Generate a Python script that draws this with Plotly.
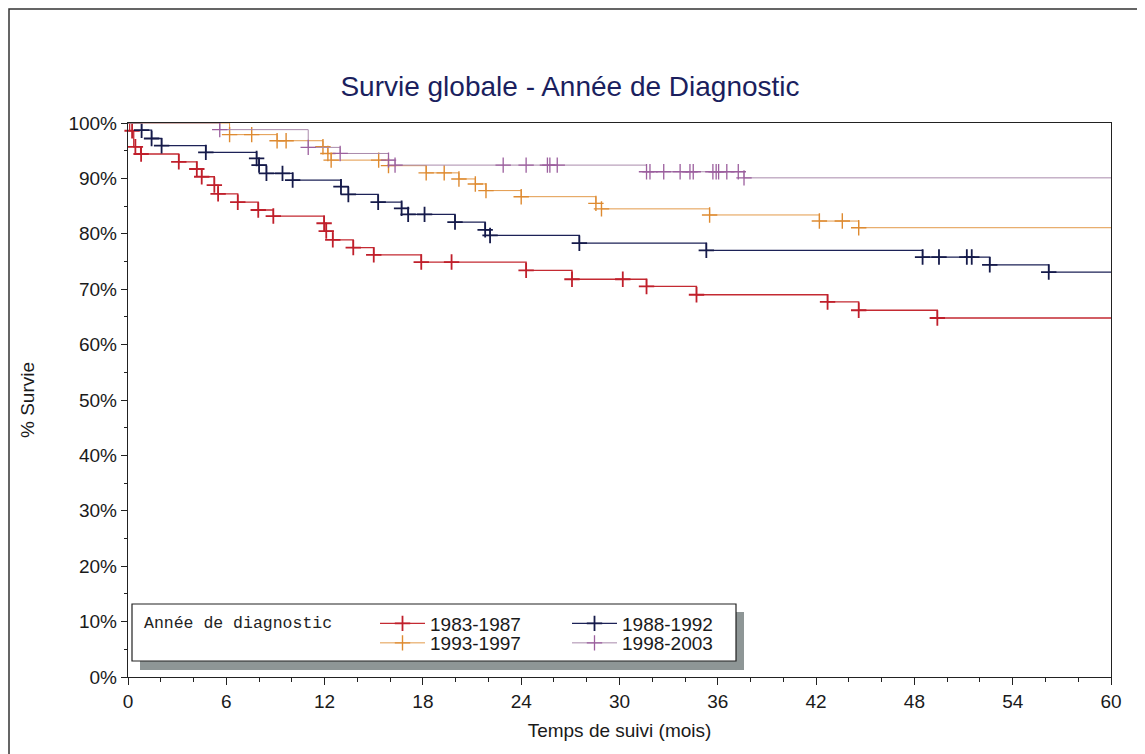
import plotly.graph_objects as go

# ---------------- data ----------------
series_names = ["1983-1987", "1988-1992", "1993-1997", "1998-2003"]

red_t = [0.1, 0.35, 0.77, 3.1, 4.2, 4.5, 5.27, 5.5, 6.7, 7.95, 8.87, 11.97, 12.1, 12.5,
         13.75, 15.0, 17.9, 24.3, 27.1, 31.65, 34.7, 42.7, 44.6, 49.4]
red_s = [98.6, 95.7, 94.4, 93.0, 91.7, 90.3, 88.8, 87.2, 85.7, 84.3, 83.2, 81.9, 80.5, 78.9,
         77.5, 76.2, 74.9, 73.4, 71.8, 70.5, 69.0, 67.7, 66.2, 64.8]
red_c = [0.25, 0.45, 0.8, 3.1, 4.2, 4.5, 5.27, 5.5, 6.7, 7.95, 8.87, 11.97, 12.1, 12.5, 13.75,
         15.0, 17.9, 19.75, 24.3, 27.1, 30.2, 31.65, 34.7, 42.7, 44.6, 49.4]

blue_t = [0.83, 1.44, 2.05, 4.75, 7.85, 8.0, 8.45, 10.05, 13.0, 13.45, 15.27, 16.7, 17.1,
          19.96, 21.8, 22.1, 27.55, 35.3, 48.5, 52.6, 56.2]
blue_s = [98.7, 97.2, 95.9, 94.7, 93.6, 92.4, 90.9, 89.7, 88.5, 87.1, 85.7, 84.6, 83.5,
          82.1, 80.7, 79.7, 78.3, 77.0, 75.8, 74.4, 73.1]
blue_c = [0.83, 1.44, 2.05, 4.75, 7.85, 8.0, 8.45, 9.43, 10.05, 13.0, 13.45, 15.27, 16.7,
          17.1, 18.1, 19.96, 21.8, 22.1, 27.55, 35.3, 48.5, 49.5, 51.2, 51.5, 52.6, 56.2]

orange_t = [6.2, 9.1, 11.9, 12.2, 12.4, 15.9, 18.2, 20.2, 21.2, 21.85, 24.0, 28.56, 28.9,
            35.5, 42.2, 44.6]
orange_s = [97.9, 96.8, 95.7, 94.5, 93.3, 92.3, 91.0, 89.9, 89.0, 87.8, 86.7, 85.5, 84.5,
            83.4, 82.3, 81.1]
orange_c = [6.2, 7.55, 9.1, 9.65, 11.9, 12.2, 12.4, 15.3, 15.9, 18.2, 19.3, 20.2, 21.2,
            21.85, 24.0, 28.56, 28.9, 35.5, 42.2, 43.6, 44.6]

purple_t = [5.6, 11.0, 12.95, 15.9, 16.3, 31.65, 37.6]
purple_s = [98.8, 95.6, 94.5, 93.3, 92.4, 91.2, 90.1]
purple_c = [5.6, 11.0, 12.95, 15.9, 16.3, 22.9, 24.3, 25.6, 25.75, 26.2, 31.65, 31.86,
            32.7, 33.7, 34.3, 34.5, 35.7, 35.9, 36.05, 36.55, 37.25, 37.6]

T_MAX = 60
legend_title = "Année de diagnostic"

line_colors = ["#c42a32", "#1c2257", "#e39a4a", "#a98aab"]
mark_colors = ["#c01f2b", "#151a4a", "#de8a30", "#9c5f9e"]
line_widths = [1.3, 1.3, 1.0, 1.0]
mark_widths = [1.8, 1.8, 1.4, 1.3]

data = [(red_t, red_s, red_c), (blue_t, blue_s, blue_c),
        (orange_t, orange_s, orange_c), (purple_t, purple_s, purple_c)]

# page is offset by the 8px body margin
OFF = 8
W, H = 1137, 746
ML, MT = 128 - OFF, 123 - OFF
PW, PH = 983, 554
MR = W - ML - PW
MB = H - MT - PH


def px(xp):  # page pixel x -> paper
    return (xp - OFF - ML) / PW


def py(yp):  # page pixel y -> paper
    return (H - MB - (yp - OFF)) / PH


def surv_at(ts, ss, t):
    v = 100.0
    for ti, si in zip(ts, ss):
        if ti <= t:
            v = si
    return v


fig = go.Figure()
for i, (ts, ss, cs) in enumerate(data):
    xs = [0] + ts + [T_MAX]
    ys = [100] + ss + [ss[-1]]
    fig.add_trace(go.Scatter(
        x=xs, y=ys, mode="lines", line=dict(shape="hv", color=line_colors[i], width=line_widths[i]),
        legendgroup=series_names[i], showlegend=False, hoverinfo="skip"))
    fig.add_trace(go.Scatter(
        x=cs, y=[surv_at(ts, ss, c) for c in cs], mode="markers",
        marker=dict(symbol="cross-thin", size=11, color=mark_colors[i],
                    line=dict(color=mark_colors[i], width=mark_widths[i])),
        legendgroup=series_names[i], showlegend=False, cliponaxis=False,
        name=series_names[i]))
    fig.add_trace(go.Scatter(
        x=[None], y=[None], mode="lines+markers", name=series_names[i],
        line=dict(color=line_colors[i], width=line_widths[i]),
        marker=dict(symbol="cross-thin", size=11, color=mark_colors[i],
                    line=dict(color=mark_colors[i], width=mark_widths[i])),
        legendgroup=series_names[i], legend="legend" if i < 2 else "legend2"))

font_main = "Liberation Sans, Arial, sans-serif"

shapes = [
    # legend shadow and box
    dict(type="rect", xref="paper", yref="paper", x0=px(140), x1=px(744), y0=py(670), y1=py(612),
         fillcolor="#8e9696", line=dict(width=0), layer="above"),
    dict(type="rect", xref="paper", yref="paper", x0=px(132), x1=px(736), y0=py(661), y1=py(604),
         fillcolor="white", line=dict(color="#222", width=1.2), layer="above"),
    # outer frame of the figure
    dict(type="rect", xref="paper", yref="paper", x0=px(9), x1=px(1142), y0=py(780), y1=py(9),
         fillcolor="rgba(0,0,0,0)", line=dict(color="#333", width=1.5), layer="above"),
]

legend_common = dict(orientation="h", xanchor="left", yanchor="middle",
                     bgcolor="rgba(0,0,0,0)", borderwidth=0, itemclick=False, itemdoubleclick=False,
                     font=dict(family=font_main, size=19, color="#1a1a1a"),
                     itemwidth=45, entrywidth=132, entrywidthmode="pixels", tracegroupgap=0)

fig.update_layout(
    width=W, height=H,
    margin=dict(l=ML, r=MR, t=MT, b=MB),
    paper_bgcolor="white", plot_bgcolor="white",
    font=dict(family=font_main, size=19, color="#1a1a1a"),
    title=dict(text="Survie globale - Année de Diagnostic", x=(570 - OFF) / W, xref="container",
               xanchor="center", y=1 - (86 - OFF) / H, yref="container", yanchor="middle",
               font=dict(family=font_main, size=28, color="#1b1f5e")),
    xaxis=dict(range=[0, T_MAX], tickmode="linear", tick0=0, dtick=6, ticks="outside", ticklen=7,
               tickwidth=1.2, tickcolor="#222", showline=True, linecolor="#222", linewidth=1.4,
               mirror=True, showgrid=False, zeroline=False, tickfont=dict(size=19),
               minor=dict(dtick=2, ticks="outside", ticklen=4, tickwidth=1, tickcolor="#222", showgrid=False),
               title=dict(text="Temps de suivi (mois)", standoff=12, font=dict(size=19))),
    yaxis=dict(range=[0, 100], tickmode="linear", tick0=0, dtick=10, ticksuffix="%", ticks="outside",
               ticklen=6, tickwidth=1.2, tickcolor="#222", showline=True, linecolor="#222",
               linewidth=1.4, mirror=True, showgrid=False, zeroline=False, tickfont=dict(size=19),
               minor=dict(dtick=5, ticks="outside", ticklen=3, tickwidth=1, tickcolor="#222", showgrid=False),
               title=dict(text="% Survie", standoff=28, font=dict(size=19))),
    legend=dict(x=px(375), y=py(623.5), **legend_common),
    legend2=dict(x=px(375), y=py(643), **legend_common),
    annotations=[dict(text=legend_title, xref="paper", yref="paper", x=px(142), y=py(623.5),
                      xanchor="left", yanchor="middle", showarrow=False,
                      font=dict(family="Liberation Mono, monospace", size=16.5, color="#222"))],
    shapes=shapes,
    showlegend=True,
)

fig.write_html("out.html")
